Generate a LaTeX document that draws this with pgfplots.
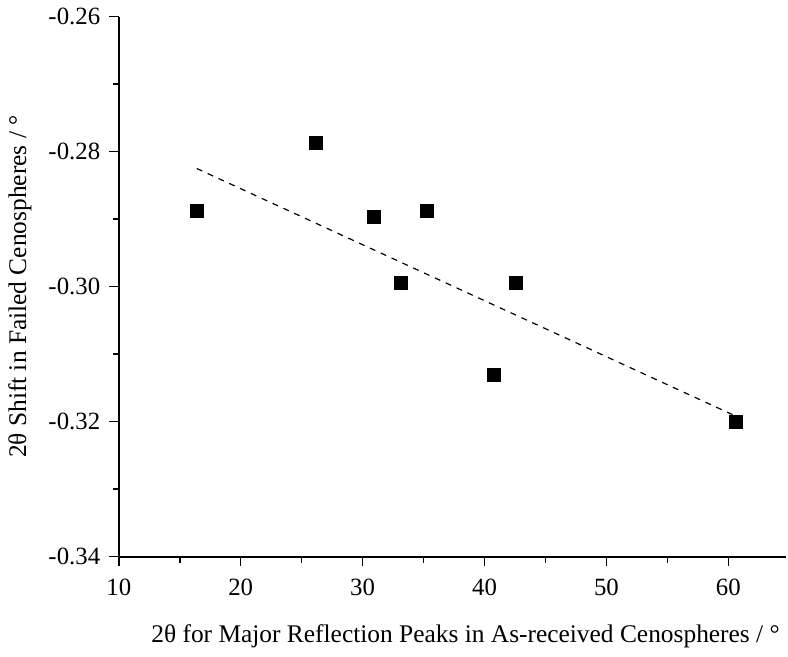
\documentclass[border=0pt]{standalone}
\usepackage{fontspec}
\setmainfont{Liberation Serif}
\usepackage{pgfplots}
\pgfplotsset{compat=1.18}

\begin{document}
\fontsize{12.5}{14}\selectfont
\begin{tikzpicture}
  \begin{axis}[
    scale only axis,
    width=336pt,
    height=272pt,
    xmin=10, xmax=64.7,
    ymin=-0.34, ymax=-0.26,
    xtick={10,20,...,60},
    ytick={-0.34,-0.32,...,-0.26},
    minor x tick num=1,
    minor y tick num=1,
    axis x line*=bottom,
    axis y line*=left,
    axis line style={line width=1pt, -},
    tick style={line width=0.8pt, black},
    tick align=outside,
    major tick length=5pt,
    minor tick length=3pt,
    /pgf/number format/assume math mode=true,
    yticklabel style={/pgf/number format/fixed, /pgf/number format/fixed zerofill, /pgf/number format/precision=2},
    xticklabel style={yshift=-2pt},
    tick label style={font=\fontsize{12.5}{14}\selectfont},
    label style={font=\fontsize{12.8}{14}\selectfont},
    xlabel={2θ for Major Reflection Peaks in As-received Cenospheres / °},
    ylabel={2θ Shift in Failed Cenospheres / °},
    xlabel style={at={(axis description cs:0.52,0)}, anchor=north, yshift=-30pt},
    ylabel style={yshift=0pt},
    clip=false,
  ]
    \addplot[only marks, mark=square*, mark size=3.25pt, black] coordinates {
      (16.43,-0.2888) (26.2,-0.2787) (30.93,-0.2897) (33.13,-0.2994)
      (35.24,-0.2888) (40.78,-0.3131) (42.57,-0.2994) (60.65,-0.3200)
    };
    \addplot[black, dashed, line width=0.6pt] coordinates {
      (16.4,-0.2825) (60.5,-0.3191)
    };
  \end{axis}
\end{tikzpicture}
\end{document}
